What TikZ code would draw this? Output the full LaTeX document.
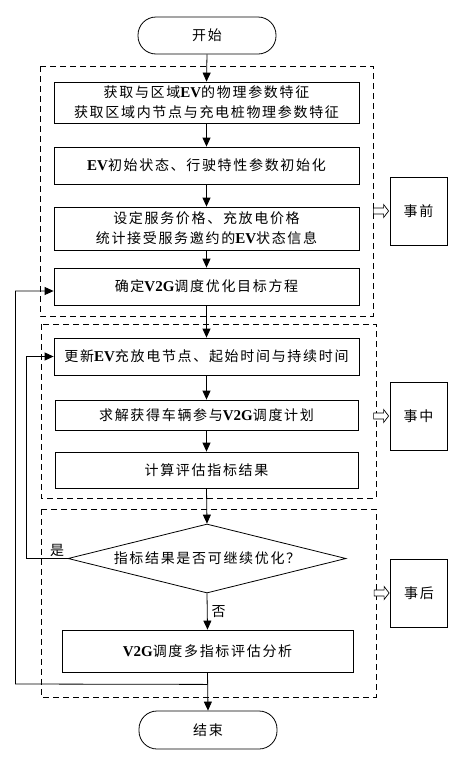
\documentclass[tikz,border=0pt]{standalone}
\usepackage{fontspec}
\setmainfont{Liberation Serif}
\newfontfamily\cjk[LetterSpace=12]{Noto Sans CJK SC}
\newcommand\lat[1]{{\rmfamily\bfseries\fontsize{15}{20}\selectfont #1}}
\usetikzlibrary{shapes.geometric,arrows.meta}
\begin{document}
\begin{tikzpicture}[x=1pt,y=-1pt,%
        every node/.style={font=\cjk\fontsize{14}{20}\selectfont,inner sep=0pt},%
        box/.style={draw,line width=0.8pt,minimum width=305pt,align=center},%
        term/.style={draw,line width=0.8pt,rounded corners=18pt,minimum
          width=138pt,minimum height=37pt},%
        decision/.style={draw,line width=0.8pt,diamond,aspect=4,minimum
          width=278pt,minimum height=69pt},%
        side/.style={draw,line width=0.8pt,minimum width=57pt,minimum height=68pt},%
        dashbox/.style={draw,line width=0.8pt,dash pattern=on 6pt off 4pt},%
        hollow/.style={draw,fill=white,line width=0.7pt,line join=miter},%
        flow/.style={draw,line width=0.8pt,-{Triangle[length=9pt,width=8pt]}}]%
        \useasboundingbox (0,0) rectangle (460,758);
        % stages
        \draw[dashbox] (40,66) rectangle (373,316);
        \draw[dashbox] (41,324) rectangle (376,498);
        \draw[dashbox] (41,509) rectangle (376,697);
        % main flow
        \node[term] (start) at (207,35.5) {开始};
        \node[box,minimum height=41pt] (b1) at (206.5,102.5)
        {获取与区域\lat{EV}的物理参数特征\\获取区域内节点与充电桩物理参数特征};
        \node[box,minimum height=37pt] (b2) at (206.5,165.5)
        {\lat{EV}初始状态、行驶特性参数初始化};
        \node[box,minimum height=43pt] (b3) at (206.5,228.5)
        {设定服务价格、充放电价格\\统计接受服务邀约的\lat{EV}状态信息};
        \node[box,minimum height=37pt] (b4) at (206.5,286.5)
        {确定\lat{V2G}调度优化目标方程};
        \node[box,minimum height=37pt] (b5) at (206.5,356.5)
        {更新\lat{EV}充放电节点、起始时间与持续时间};
        \node[box,minimum width=303pt,minimum height=30pt] (b6) at (206.5,415)
        {求解获得车辆参与\lat{V2G}调度计划};
        \node[box,minimum width=303pt,minimum height=36pt] (b7) at (206.5,470)
        {计算评估指标结果};
        \node[decision] (dec) at (207,558.5) {指标结果是否可继续优化？};
        \node[box,minimum width=291pt,minimum height=42pt] (b8) at (207.5,651)
        {\lat{V2G}调度多指标评估分析};
        \node[term,minimum height=38pt] (end) at (208,730) {结束};
        % side labels
        \node[side] (pre) at (418.5,211) {事前};
        \node[side] (mid) at (418.5,416) {事中};
        \node[side] (post) at (419,593) {事后};
        \foreach \s in {pre,mid,post}
          \draw[hollow] ([xshift=-1pt]\s.west) -- ++(-5,-6.5) -- ++(0,3.5)
            -- ++(-10,0) -- ++(0,6) -- ++(10,0) -- ++(0,3.5) -- cycle;
        % arrows
        \draw[flow] (start.south) -- (b1.north);
        \draw[flow] (b1.south) -- (b2.north);
        \draw[flow] (b2.south) -- (b3.north);
        \draw[flow] (b3.south) -- (b4.north);
        \draw[flow] (b4.south) -- (b5.north);
        \draw[flow] (b5.south) -- (b6.north);
        \draw[flow] (b6.south) -- (b7.north);
        \draw[flow] (b7.south) -- (dec.north);
        \draw[flow] (dec.south) -- node[right=4pt] (no) {否} (b8.north);
        \draw[flow] (b8.south) -- (end.north);
        \path (b8.south) ++(0,12) coordinate (jn);
        \draw[flow] (jn) -- (15.5,684) |- ([yshift=-4.5pt]b4.west);
        \draw[flow] (dec.west) -- (26,558.5) |- (b5.west);
        \node (yes) at (57,550) {是};
      \end{tikzpicture}
\end{document}
